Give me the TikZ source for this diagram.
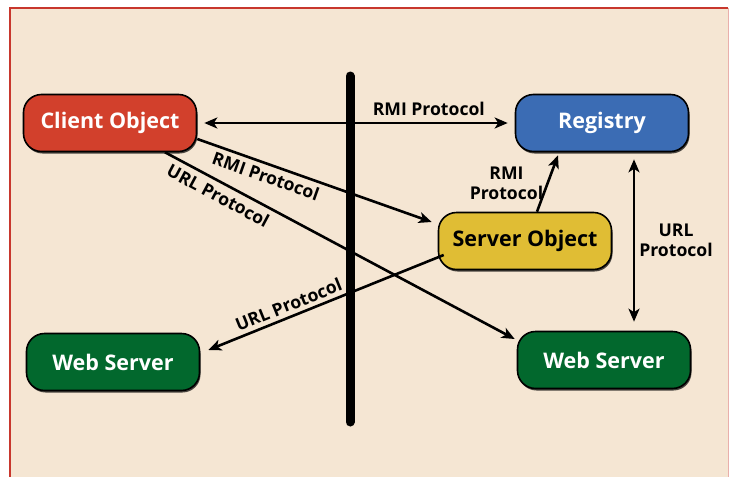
\documentclass[tikz,border=0pt]{standalone}
\usepackage{fontspec}
\setmainfont{Open Sans}
\usetikzlibrary{arrows.meta,shadows}
\definecolor{panelbeige}{RGB}{245,230,211}
\definecolor{framered}{RGB}{200,55,45}
\definecolor{clientred}{RGB}{210,64,44}
\definecolor{regblue}{RGB}{59,108,180}
\definecolor{servyellow}{RGB}{224,189,52}
\definecolor{webgreen}{RGB}{2,104,45}
\tikzset{
  >={Stealth[length=13pt,width=11pt,inset=3.5pt]},
  flow/.style={->,line width=2.6pt},
  box/.style={draw=black,line width=1.6pt,rounded corners=18pt,
              minimum width=173pt,minimum height=57pt,inner sep=0pt,
              font=\fontsize{21.5}{24}\selectfont\bfseries,text=white,
              drop shadow={shadow xshift=1pt,shadow yshift=-2pt,fill=black,opacity=0.7}},
  clientbox/.style={box,fill=clientred},
  regbox/.style={box,fill=regblue},
  servbox/.style={box,fill=servyellow,text=black},
  webbox/.style={box,fill=webgreen},
  lab/.style={font=\fontsize{17.6}{20}\selectfont\bfseries,text=black,inner sep=2pt},
  divider/.style={line width=9pt,line cap=round},
}

\begin{document}
\begin{tikzpicture}[x=1pt,y=-1pt]
  \path[use as bounding box] (0,0) rectangle (729,477);
  \fill[panelbeige] (10,8) rectangle (728,478);
  \draw[framered,line width=1.2pt] (10,478) -- (10,8) -- (728,8);
  \draw[framered!40,line width=1pt] (728,8) -- (728,478);

  \node[clientbox] (client) at (110,123) {Client Object};
  \node[regbox] (registry) at (602,123) {Registry};
  \node[servbox] (server) at (525,241) {Server Object};
  \node[webbox] (webL) at (113,362) {Web Server};
  \node[webbox] (webR) at (604,360) {Web Server};

  \draw[flow,<->] ([xshift=7pt]client.east) -- ([xshift=-7pt]registry.west)
    node[lab,pos=0.74,above=4pt] {RMI Protocol};
  \draw[flow] ([yshift=-16pt]client.east) -- ([xshift=-6pt,yshift=19pt]server.west)
    node[lab,sloped,pos=0.31,below=2pt] {RMI Protocol};
  \draw[flow] ([xshift=55pt]client.south) -- ([xshift=-2pt,yshift=21pt]webR.west)
    node[lab,sloped,pos=0.17,below=3pt] {URL Protocol};
  \draw[flow,<-] ([xshift=8pt,yshift=12pt]webL.east) -- ([xshift=6pt,yshift=-14pt]server.west)
    node[lab,sloped,pos=0.36,above=2pt] {URL Protocol};
  \draw[flow] ([xshift=12pt]server.north) -- ([xshift=-44pt,yshift=-3pt]registry.south)
    node[lab,midway,left=1pt,align=center] {RMI\\Protocol};
  \draw[flow,<->] ([xshift=32pt,yshift=-7pt]registry.south) -- ([xshift=30pt,yshift=9pt]webR.north)
    node[lab,midway,right=2pt,align=center] {URL\\Protocol};

  \draw[divider] (350,76) -- (350,422);
\end{tikzpicture}
\end{document}
